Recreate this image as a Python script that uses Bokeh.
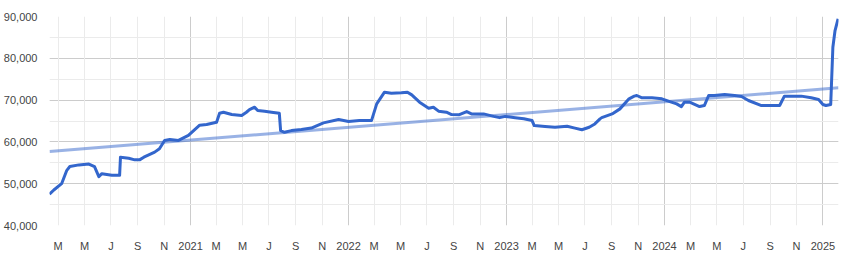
from datetime import datetime, timezone
from bokeh.plotting import figure
from bokeh.models import (FixedTicker, CustomJSTickFormatter, Grid, Range1d,
                          NumeralTickFormatter)
from bokeh.embed import file_html
from bokeh.resources import INLINE

dates = [
    "2020-02-10", "2020-02-20", "2020-03-09", "2020-03-21", "2020-03-28", "2020-04-18",
    "2020-05-11", "2020-05-24", "2020-06-03", "2020-06-10", "2020-07-03",
    "2020-07-21", "2020-07-23", "2020-08-11", "2020-08-25", "2020-09-05",
    "2020-09-15", "2020-10-10", "2020-10-21", "2020-11-02", "2020-11-14",
    "2020-12-04", "2020-12-27", "2021-01-08", "2021-01-22", "2021-02-07",
    "2021-03-02", "2021-03-09", "2021-03-18", "2021-04-06", "2021-04-29",
    "2021-05-10", "2021-05-17", "2021-05-29", "2021-06-05", "2021-06-21",
    "2021-07-07", "2021-07-25", "2021-07-28", "2021-08-06", "2021-08-22",
    "2021-09-14", "2021-10-07", "2021-11-04", "2021-12-09", "2022-01-01",
    "2022-01-26", "2022-02-23", "2022-03-07", "2022-03-25", "2022-04-10",
    "2022-05-03", "2022-05-17", "2022-05-27", "2022-06-14", "2022-07-05",
    "2022-07-16", "2022-07-28", "2022-08-15", "2022-08-27", "2022-09-14",
    "2022-10-01", "2022-10-12", "2022-11-09", "2022-12-02", "2022-12-16",
    "2022-12-29", "2023-01-21", "2023-02-10", "2023-03-01", "2023-03-06",
    "2023-03-31", "2023-04-23", "2023-05-21", "2023-06-08", "2023-06-24",
    "2023-07-11", "2023-07-24", "2023-08-05", "2023-08-09", "2023-09-02",
    "2023-09-20", "2023-10-11", "2023-10-23", "2023-10-29", "2023-11-10",
    "2023-12-03", "2023-12-26", "2024-01-10", "2024-01-29", "2024-02-09",
    "2024-02-16", "2024-02-28", "2024-03-22", "2024-04-02", "2024-04-12",
    "2024-04-25", "2024-05-19", "2024-06-11", "2024-06-27", "2024-07-13",
    "2024-08-12", "2024-08-28", "2024-09-23", "2024-10-04", "2024-10-16",
    "2024-11-12", "2024-12-05", "2024-12-22", "2025-01-01", "2025-01-08",
    "2025-01-19", "2025-01-24", "2025-01-29", "2025-02-05",
]
values = [
    47500, 48500, 50000, 53200, 54100, 54500,
    54700, 54100, 51700, 52400, 52000,
    52000, 56350, 56100, 55700, 55700,
    56350, 57550, 58350, 60350, 60600,
    60350, 61550, 62700, 64000, 64150,
    64700, 66850, 67100, 66550, 66300,
    67100, 67700, 68300, 67500, 67350,
    67100, 66850, 62700, 62300, 62700,
    62950, 63300, 64550, 65350, 64900,
    65100, 65100, 69100, 71900, 71650,
    71750, 71900, 71250, 69500, 68050,
    68300, 67350, 67100, 66550, 66500,
    67250, 66700, 66700, 66100, 65800,
    66100, 65800, 65550, 65100, 63900,
    63700, 63500, 63750, 63300, 62900,
    63500, 64300, 65500, 65800, 66700,
    67900, 70300, 70950, 71100, 70550,
    70550, 70300, 69750, 69100, 68450,
    69500, 69500, 68450, 68700, 71100,
    71100, 71350, 71100, 70850, 69900,
    68700, 68700, 68700, 70950, 70950,
    70950, 70550, 70150, 68950, 68700,
    68950, 82650, 86650, 89450,
]
trend_dates = ["2020-02-10", "2025-02-06"]
trend_values = [57700, 72950]

tick_dates = [f"{y}-{m:02d}-01" for y in range(2020, 2026) for m in (1, 3, 5, 7, 9, 11)]
year_dates = [f"{y}-01-01" for y in range(2021, 2026)]
y_start, y_end, y_major, y_minor = 40000, 90000, 10000, 5000


def ms(s):
    return datetime.strptime(s, "%Y-%m-%d").replace(tzinfo=timezone.utc).timestamp() * 1000


xs = [ms(d) for d in dates]
txs = [ms(d) for d in trend_dates]

p = figure(width=845, height=257, x_axis_type="datetime", output_backend="svg",
           toolbar_location=None, min_border_left=48, min_border_right=7,
           min_border_top=16, min_border_bottom=32,
           x_range=Range1d(ms("2020-02-10"), ms("2025-02-06")),
           y_range=Range1d(y_start, y_end))
p.outline_line_color = None
p.background_fill_color = "white"
p.border_fill_color = "white"

all_ticks = [ms(d) for d in tick_dates]
year_ticks = [ms(d) for d in year_dates]
month_ticks = [t for t in all_ticks if t not in year_ticks]

p.xaxis.ticker = FixedTicker(ticks=all_ticks)
p.xaxis.formatter = CustomJSTickFormatter(code="""
const d = new Date(tick);
const m = d.getUTCMonth();
if (m == 0) return String(d.getUTCFullYear());
return "JFMAMJJASOND"[m];
""")
p.yaxis.ticker = FixedTicker(ticks=list(range(y_start, y_end + 1, y_major)),
                             minor_ticks=list(range(y_start, y_end + 1, y_minor)))
p.yaxis.formatter = NumeralTickFormatter(format="0,0")

for ax in (p.xaxis[0], p.yaxis[0]):
    ax.axis_line_color = None
    ax.major_tick_line_color = None
    ax.minor_tick_line_color = None
    ax.major_label_text_font = "Liberation Sans"
    ax.major_label_text_font_size = "11px"
    ax.major_label_text_color = "#444444"
p.xaxis.major_label_standoff = 8
p.yaxis.major_label_standoff = 6

p.xgrid.ticker = FixedTicker(ticks=year_ticks)
p.xgrid.grid_line_color = "#cccccc"
p.ygrid.grid_line_color = "#cccccc"
p.ygrid.minor_grid_line_color = "#ebebeb"
mg = Grid(dimension=0, ticker=FixedTicker(ticks=month_ticks), grid_line_color="#ebebeb")
p.add_layout(mg, "center")

p.line(xs, values, line_color="#3366cc", line_width=3, line_join="round")
p.line(txs, trend_values, line_color="#3366cc", line_alpha=0.5, line_width=3)

open("out.html", "w").write(file_html(p, INLINE))
